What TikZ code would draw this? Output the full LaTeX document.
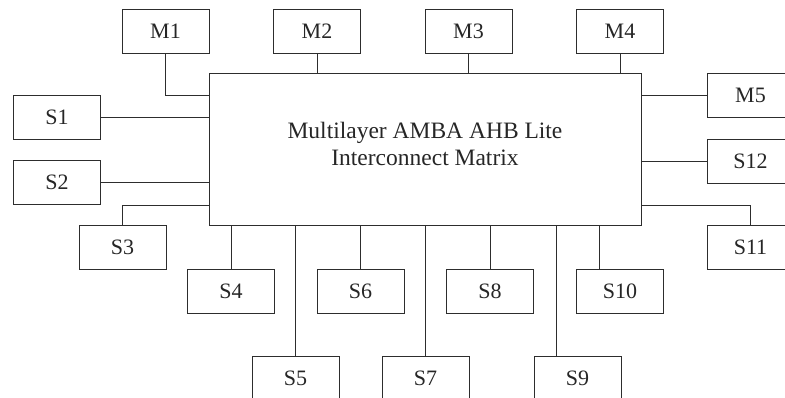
\documentclass[tikz,border=0pt]{standalone}
\usepackage{fontspec}
\setmainfont{Liberation Serif}
\usepackage{tikz}
\usetikzlibrary{calc}
\definecolor{LineGray}{RGB}{45,45,45}

\begin{document}
\begin{tikzpicture}[x=1pt, y=-1pt,
		blk/.style={draw=LineGray, line width=0.9pt, minimum width=87pt, minimum height=44pt, inner sep=0pt, text=black!85, font=\fontsize{22}{26}\selectfont},
		hub/.style={draw=LineGray, line width=0.9pt, minimum width=432pt, minimum height=152pt, inner sep=0pt},
		wire/.style={draw=LineGray, line width=0.9pt}]
	\useasboundingbox (0,0) rectangle (785,397);
	\clip (0,0) rectangle (785,397);

	% Matrix
	\node[hub] (ahb) at (425,149) {};
	\node[align=center, text=black!85, inner sep=0pt, font=\fontsize{23.5}{27}\selectfont] (ahbtext) at (425,143.5)
		{Multilayer AMBA AHB Lite\\Interconnect Matrix};

	% Masters
	\node[blk] (m1) at (165.5,31) {M1};
	\node[blk] (m2) at (317,31) {M2};
	\node[blk] (m3) at (468.5,31) {M3};
	\node[blk] (m4) at (620,31) {M4};
	\node[blk] (m5) at (750.5,95) {M5};

	% Slaves
	\node[blk] (s1) at (57,117.5) {S1};
	\node[blk] (s2) at (57,182.5) {S2};
	\node[blk] (s3) at (122.5,247.5) {S3};
	\node[blk] (s4) at (231,291) {S4};
	\node[blk] (s5) at (295.5,378.5) {S5};
	\node[blk] (s6) at (360.5,291) {S6};
	\node[blk] (s7) at (425.5,378.5) {S7};
	\node[blk] (s8) at (490,291) {S8};
	\node[blk] (s9) at (577.5,378.5) {S9};
	\node[blk] (s10) at (620,291) {S10};
	\node[blk] (s11) at (750.5,247.5) {S11};
	\node[blk] (s12) at (750.5,161) {S12};

	% top side
	\draw[wire] (m1.south) |- ([yshift=-23pt]ahb.north west);
	\draw[wire] (m2.south) -- (m2.south |- ahb.north);
	\draw[wire] (m3.south) -- (m3.south |- ahb.north);
	\draw[wire] (m4.south) -- (m4.south |- ahb.north);

	% left and right sides
	\draw[wire] (s1.east) -- (s1.east -| ahb.west);
	\draw[wire] (s2.east) -- (s2.east -| ahb.west);
	\draw[wire] (s3.north) |- ([yshift=20pt]ahb.south west);
	\draw[wire] (m5.west) -- (m5.west -| ahb.east);
	\draw[wire] (s12.west) -- (s12.west -| ahb.east);
	\draw[wire] (s11.north) |- ([yshift=20pt]ahb.south east);

	% bottom side
	\draw[wire] (s4.north) -- (s4.north |- ahb.south);
	\draw[wire] (s5.north) -- (s5.north |- ahb.south);
	\draw[wire] (s6.north) -- (s6.north |- ahb.south);
	\draw[wire] (s7.north) -- (s7.north |- ahb.south);
	\draw[wire] (s8.north) -- (s8.north |- ahb.south);
	\draw[wire] ([xshift=-21.5pt]s9.north) -- ([xshift=-21.5pt]s9.north |- ahb.south);
	\draw[wire] ([xshift=-21pt]s10.north) -- ([xshift=-21pt]s10.north |- ahb.south);
\end{tikzpicture}
\end{document}
